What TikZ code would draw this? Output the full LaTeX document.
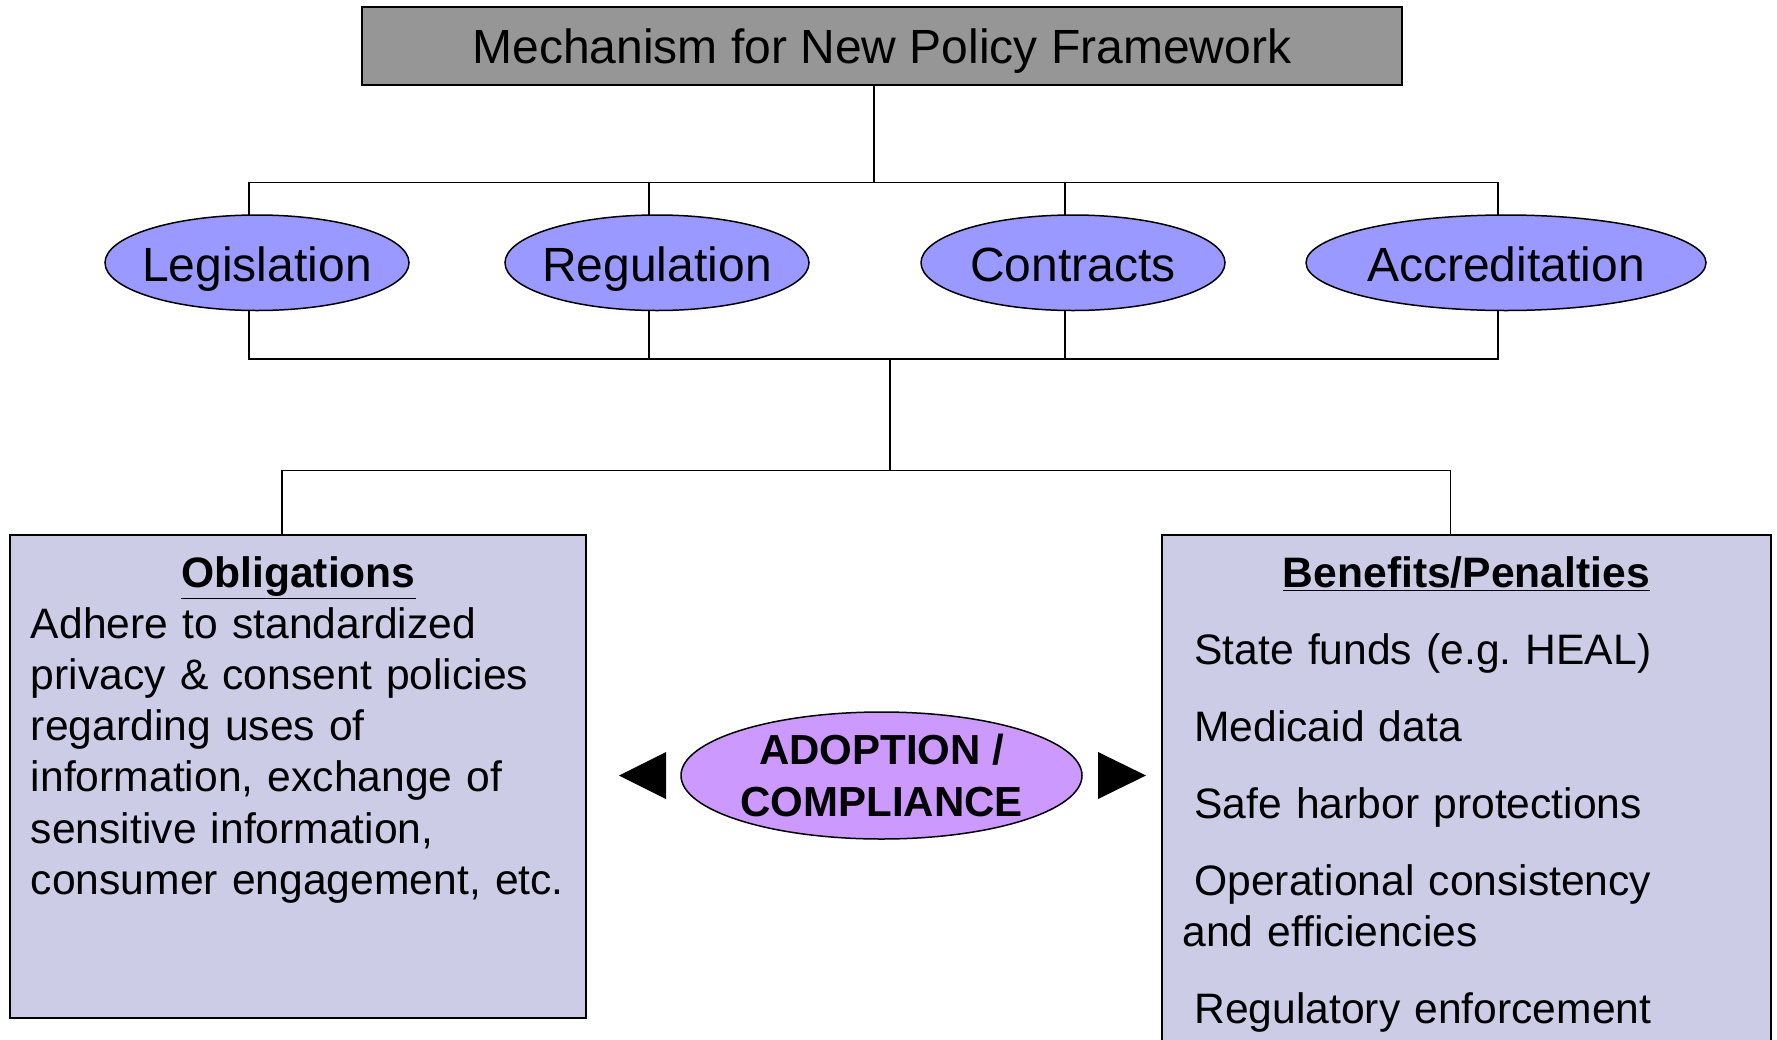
\documentclass[tikz,border=0pt]{standalone}
\usepackage{fontspec}
\setmainfont{Liberation Sans}
\usetikzlibrary{shapes,positioning}
\definecolor{headgray}{RGB}{150,150,150}
\definecolor{mechblue}{RGB}{153,153,255}
\definecolor{panelgray}{RGB}{204,204,230}
\definecolor{adoptpurple}{RGB}{204,153,255}
\newcommand{\benefit}{\par\vspace{12.9pt}\hspace*{.28em}}
\tikzset{
  basic/.style  = {draw, line width=1pt, inner sep=0pt, outer sep=0pt},
  headbox/.style = {basic, rectangle, fill=headgray, minimum width=520pt, minimum height=39pt,
                   text height=17.2pt, text depth=0pt, font=\fontsize{24}{28.8}\selectfont},
  mech/.style   = {basic, ellipse, line width=.75pt, fill=mechblue, minimum height=47.75pt,
                   label={[text height=17.2pt, text depth=0pt, yshift=-1pt,
                           font=\fontsize{24}{28.8}\selectfont]center:#1}},
  panel/.style  = {basic, rectangle, fill=panelgray},
  paneltext/.style = {anchor=base west, inner sep=0pt, align=left,
                   font=\fontsize{21.3}{25.6}\selectfont},
  link/.style   = {draw, line width=.9pt}
}

\begin{document}
\begin{tikzpicture}[x=.5pt,y=-.5pt]
\useasboundingbox (0,0) rectangle (1777,1039);
\clip (0,0) rectangle (1777,1039);

\node[headbox] (head) at (882,46) {Mechanism for New Policy Framework};

\node[mech=Legislation, minimum width=152pt] (leg) at (257,262.75) {};
\node[mech=Regulation, minimum width=152pt] (reg) at (657,262.75) {};
\node[mech=Contracts, minimum width=152pt] (con) at (1073,262.75) {};
\node[mech=Accreditation, minimum width=200pt] (acc) at (1506,262.75) {};

\node[panel, minimum width=288pt, minimum height=241.5pt] (obl) at (298,776.5) {};
\node[panel, minimum width=304.5pt, minimum height=262.5pt] (ben) at (1466.5,797.5) {};

\node[paneltext, text width=267.4pt] (obltext) at (30.6,587) {\centerline{\bfseries\underline{Obligations}}\par Adhere to standardized\\privacy \& consent policies\\regarding uses of\\information, exchange of\\sensitive information,\\consumer engagement, etc.};
\node[paneltext, text width=284pt] (bentext) at (1182,587) {\centerline{\bfseries\underline{Benefits/Penalties}}\benefit State funds (e.g.\ HEAL)\benefit Medicaid data\benefit Safe harbor protections\benefit Operational consistency\\and efficiencies\benefit Regulatory enforcement};

\node[basic, ellipse, line width=.75pt, fill=adoptpurple, minimum width=200.5pt, minimum height=63.5pt,
  label={[align=center, font=\bfseries\fontsize{21}{26}\selectfont]center:ADOPTION /\\COMPLIANCE}] (adopt) at (881.5,775.5) {};

% upper tree
\draw[link] ([xshift=-4pt]head.south) -- ++(0,97.5);
\draw[link] ([xshift=-4pt]leg.north) -- ++(0,-32.5) -| ([xshift=-4pt]acc.north);
\foreach \n in {reg,con} \draw[link] ([xshift=-4pt]\n.north) -- ++(0,-32.5);
\draw[link] ([xshift=-4pt]leg.south) -- ++(0,48.5) -| ([xshift=-4pt]acc.south);
\foreach \n in {reg,con} \draw[link] ([xshift=-4pt]\n.south) -- ++(0,48.5);

% lower tree
\coordinate (join) at (890,359);
\coordinate (fork) at (890,470.5);
\draw[link] (join) -- (fork);
\draw[link] ([xshift=-8pt]obl.north) |- (fork) -| ([xshift=-8pt]ben.north);

% pointers
\fill ([xshift=-7.5pt]adopt.west) -- ++(0,-23.5) -- ++(-47,23.5) -- ++(47,23.5) -- cycle;
\fill ([xshift=8pt]adopt.east) -- ++(0,-23.5) -- ++(48,23.5) -- ++(-48,23.5) -- cycle;
\end{tikzpicture}
\end{document}
